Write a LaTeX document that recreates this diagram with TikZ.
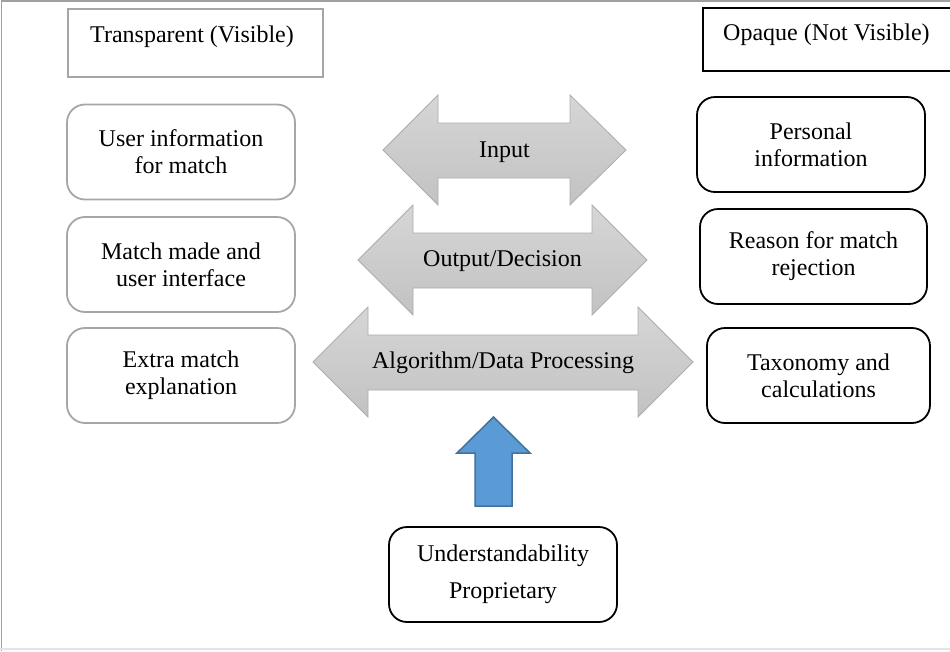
\documentclass[tikz,border=0pt]{standalone}
\usepackage{fontspec}
\setmainfont{Liberation Serif}
\definecolor{lgray}{RGB}{166,166,166}
\definecolor{frameline}{RGB}{160,160,160}
\definecolor{framelight}{RGB}{228,228,228}
\definecolor{arrline}{RGB}{172,172,172}
\definecolor{arrtop}{RGB}{214,214,214}
\definecolor{arrbot}{RGB}{194,194,194}
\definecolor{bluefill}{RGB}{91,155,213}
\definecolor{blueline}{RGB}{65,113,156}
\begin{document}
\begin{tikzpicture}[x=1pt,y=-1pt,
  txt/.style={font=\fontsize{24}{27}\selectfont, align=center, inner sep=0pt},
  tbox/.style={txt, draw=lgray, line width=1.8pt, rounded corners=18pt, minimum width=228pt, minimum height=95pt},
  obox/.style={txt, draw=black, line width=1.8pt, rounded corners=18pt, minimum height=95pt},
  hbox/.style={line width=1.8pt, inner sep=0pt, anchor=north west},
  garrow/.style={draw=arrline, line width=0.8pt, top color=arrtop, bottom color=arrbot},
  barrow/.style={draw=blueline, line width=1.5pt, fill=bluefill}]
\useasboundingbox (0,0) rectangle (950,651);
% frame
\draw[frameline, line width=1.5pt] (1.5,651) -- (1.5,1) -- (950,1);
\draw[framelight, line width=1.5pt] (0,649) -- (950,649);

% header boxes
\node[hbox, draw=lgray, minimum width=255pt, minimum height=68pt] (transp) at (67,8) {};
\node[txt, anchor=west] (transpt) at (90,37) {Transparent (Visible)};
\node[hbox, draw=black, minimum width=260pt, minimum height=63pt] (opaq) at (702,7) {};
\node[txt, anchor=west] (opaqt) at (723,35) {Opaque (Not Visible)};

% left boxes
\node[tbox] (uinfo) at (181,152) {User information\\for match};
\node[tbox] (mmade) at (181,264.5) {Match made and\\user interface};
\node[tbox] (extra) at (181,375.5) {Extra match\\explanation};

% right boxes
\node[obox, minimum width=228pt] (pers) at (811,144.5) {Personal\\information};
\node[obox, minimum width=227pt] (reas) at (813.5,256.5) {Reason for match\\rejection};
\node[obox, minimum width=223pt] (taxo) at (818.5,375.5) {Taxonomy and\\calculations};

% double arrows
\path[garrow] (383,150) -- (438,95) -- (438,123) -- (570,123) -- (570,95) -- (626,150)
  -- (570,205) -- (570,178) -- (438,178) -- (438,205) -- cycle;
\node[txt] (input) at (504.5,152) {Input};

\path[garrow] (358,260) -- (413,205) -- (413,233) -- (592,233) -- (592,205) -- (647,260)
  -- (592,315) -- (592,288) -- (413,288) -- (413,315) -- cycle;
\node[txt] (output) at (502.5,261) {Output/Decision};

\path[garrow] (313,362) -- (368,307) -- (368,335) -- (638,335) -- (638,307) -- (693,362)
  -- (638,417) -- (638,390) -- (368,390) -- (368,417) -- cycle;
\node[txt] (algo) at (503,363) {Algorithm/Data Processing};

% blue up arrow
\path[barrow] (493.5,417) -- (530,453) -- (512,453) -- (512,506) -- (475,506) -- (475,453)
  -- (457,453) -- cycle;

% bottom box
\node[obox, minimum width=228pt] (under) at (503,574.5) {Understandability\\[10pt]Proprietary};
\end{tikzpicture}
\end{document}
